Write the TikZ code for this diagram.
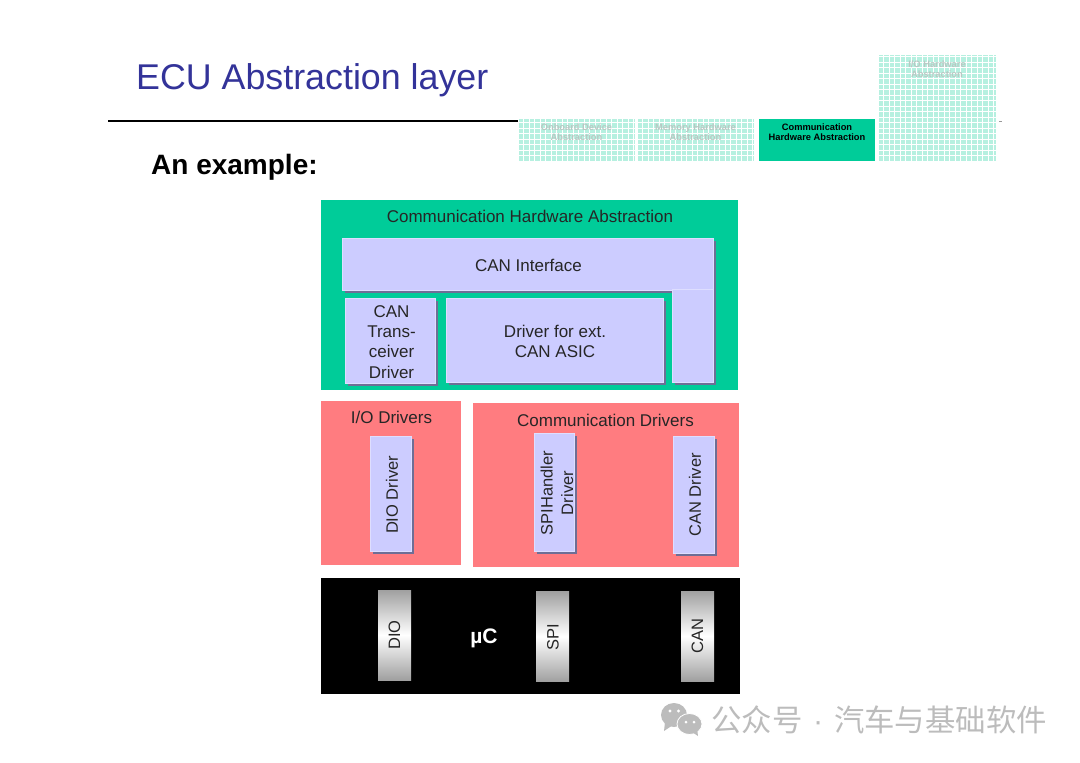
\documentclass[tikz,border=0pt]{standalone}
\usepackage{fontspec}
\setmainfont{Liberation Sans}
\newfontfamily\cjkfont{Noto Sans CJK SC}
\usepackage{xcolor}
\usetikzlibrary{shadows}
\definecolor{titleblue}{RGB}{51,51,153}
\definecolor{commgreen}{RGB}{0,204,153}
\definecolor{hatchgreen}{RGB}{182,240,224}
\definecolor{driverred}{RGB}{255,124,128}
\definecolor{blocklilac}{RGB}{204,204,255}
\definecolor{edgelilac}{RGB}{222,222,255}
\definecolor{shadowlilac}{RGB}{110,110,150}
\definecolor{portgray}{RGB}{160,160,160}
\definecolor{marktext}{RGB}{188,188,188}
\definecolor{fainttext}{RGB}{185,200,195}
\tikzset{
  commbox/.style={rectangle, fill=commgreen, inner sep=0pt},
  redarea/.style={rectangle, fill=driverred, inner sep=0pt},
  block/.style={rectangle, fill=blocklilac, draw=edgelilac, line width=0.6pt, inner sep=0pt,
    general shadow={fill=shadowlilac, shadow xshift=2.5pt, shadow yshift=-2.5pt}},
  portbox/.style={rectangle, minimum width=33pt, minimum height=90pt, inner sep=0pt,
    top color=portgray, bottom color=portgray, middle color=white},
  arealabel/.style={inner sep=0pt, align=center, font=\fontsize{17}{20.2}\selectfont, text=black!85},
  uplabel/.style={arealabel, rotate=90, font=\fontsize{16.5}{20.5}\selectfont},
  hatchbox/.style={rectangle, inner sep=0pt, fill=hatchgreen,
    path picture={
      \foreach \k in {0,5.5,...,130} {
        \draw[white, line width=0.8pt] ([xshift=\k pt]path picture bounding box.south west)
          -- ([xshift=\k pt]path picture bounding box.north west);
        \draw[white, line width=0.8pt] ([yshift=\k pt]path picture bounding box.south west)
          -- ([yshift=\k pt]path picture bounding box.south east);
      }
    }},
  tablabel/.style={inner sep=0pt, align=center, font=\fontsize{9.3}{10}\selectfont\bfseries},
}
\begin{document}
\begin{tikzpicture}[x=1pt, y=-1pt]
  \useasboundingbox (0,0) rectangle (1080,763);
  % heading
  \node[anchor=west, inner sep=0pt, text=titleblue, font=\fontsize{35.8}{40}\selectfont] (title) at (136,80.5) {ECU Abstraction layer};
  \node[anchor=west, inner sep=0pt, font=\fontsize{28}{32}\selectfont\bfseries] (example) at (151,167) {An example:};
  % tabs top right
  \node[hatchbox, minimum width=117pt, minimum height=42pt] (tabboard) at (576.5,140) {};
  \node[hatchbox, minimum width=117pt, minimum height=42pt] (tabmem) at (695.5,140) {};
  \node[commbox, minimum width=116pt, minimum height=42pt] (tabcomm) at (817,140) {};
  \node[hatchbox, minimum width=118pt, minimum height=106pt] (tabio) at (937,108) {};
  \node[tablabel, text=fainttext] (tabboardtxt) at (576.5,132.5) {Onboard Device\\Abstraction};
  \node[tablabel, text=fainttext] (tabmemtxt) at (695.5,132.5) {Memory Hardware\\Abstraction};
  \node[tablabel] (tabcommtxt) at (817,132.5) {Communication\\Hardware Abstraction};
  \node[tablabel, text=fainttext] (tabiotxt) at (937,69) {I/O Hardware\\Abstraction};
  \coordinate (rulestart) at (108,121);
  \coordinate (tickstart) at (999,121);
  \coordinate (tickend) at (1002,121);
  \draw[line width=1.3pt] (rulestart) -- (tabboard.west |- rulestart);
  \draw[black!40, line width=0.7pt] (tickstart) -- (tickend);
  % communication hardware abstraction
  \node[commbox, minimum width=417pt, minimum height=190pt] (commhw) at (529.75,295) {};
  \node[arealabel] (commhwtxt) at (530,216.5) {Communication Hardware Abstraction};
  \node[block, minimum width=371pt, minimum height=52pt] (canif) at (527.5,264) {};
  \node[block, minimum width=41pt, minimum height=93pt] (canleg) at (692.5,336) {};
  \node[arealabel] (caniftxt) at (528.5,265.5) {CAN Interface};
  \node[block, minimum width=90pt, minimum height=85pt] (cantrans) at (390,340.5) {};
  \node[arealabel] (cantranstxt) at (391.5,342) {CAN\\Trans-\\ceiver\\Driver};
  \node[block, minimum width=217pt, minimum height=84pt] (extasic) at (554.5,340) {};
  \node[arealabel] (extasictxt) at (555,341.5) {Driver for ext.\\CAN ASIC};
  % drivers
  \node[redarea, minimum width=140pt, minimum height=164pt] (ioarea) at (391,483) {};
  \node[arealabel] (ioareatxt) at (391.5,417.5) {I/O Drivers};
  \node[redarea, minimum width=265.5pt, minimum height=164pt] (commarea) at (605.75,485) {};
  \node[arealabel] (commareatxt) at (605.5,420) {Communication Drivers};
  \node[block, minimum width=41pt, minimum height=115pt] (diodrv) at (391,494) {};
  \node[block, minimum width=40pt, minimum height=118pt] (spidrv) at (554.5,492) {};
  \node[block, minimum width=41pt, minimum height=117pt] (candrv) at (694,494.5) {};
  \node[uplabel] (diodrvtxt) at (392,495) {DIO Driver};
  \node[uplabel] (spidrvtxt) at (557,493) {SPIHandler\\Driver};
  \node[uplabel] (candrvtxt) at (695,495) {CAN Driver};
  % microcontroller
  \node[rectangle, fill=black, minimum width=419.5pt, minimum height=116pt, inner sep=0pt] (micro) at (530.25,636) {};
  \node[text=white, inner sep=0pt, font=\fontsize{21}{24}\selectfont\bfseries] (microtxt) at (484,638.5) {µC};
  \node[portbox] (dioport) at (394.5,635) {};
  \node[portbox] (spiport) at (552.5,636.5) {};
  \node[portbox] (canport) at (697.5,636) {};
  \node[uplabel] (dioporttxt) at (394.5,635) {DIO};
  \node[uplabel] (spiporttxt) at (553,637) {SPI};
  \node[uplabel] (canporttxt) at (697.5,636) {CAN};
  % watermark
  \fill[marktext] (674,715) ellipse [x radius=13, y radius=12];
  \fill[marktext] (665,722) -- (664,731) -- (673,725) -- cycle;
  \fill[marktext, draw=white, line width=0.8pt] (689.5,724) ellipse [x radius=12.5, y radius=10.5];
  \fill[marktext] (692,732) -- (698,736) -- (697,728) -- cycle;
  \fill[white] (670,711) circle (1.7) (678.5,711) circle (1.7) (686,722) circle (1.5) (694,722) circle (1.5);
  \node[anchor=west, inner sep=0pt, text=marktext, font=\cjkfont\fontsize{30.4}{34}\selectfont] (marktxt) at (711,720) {公众号\hspace{4pt} {\rmfamily ·} \hspace{4pt}汽车与基础软件};
\end{tikzpicture}
\end{document}
